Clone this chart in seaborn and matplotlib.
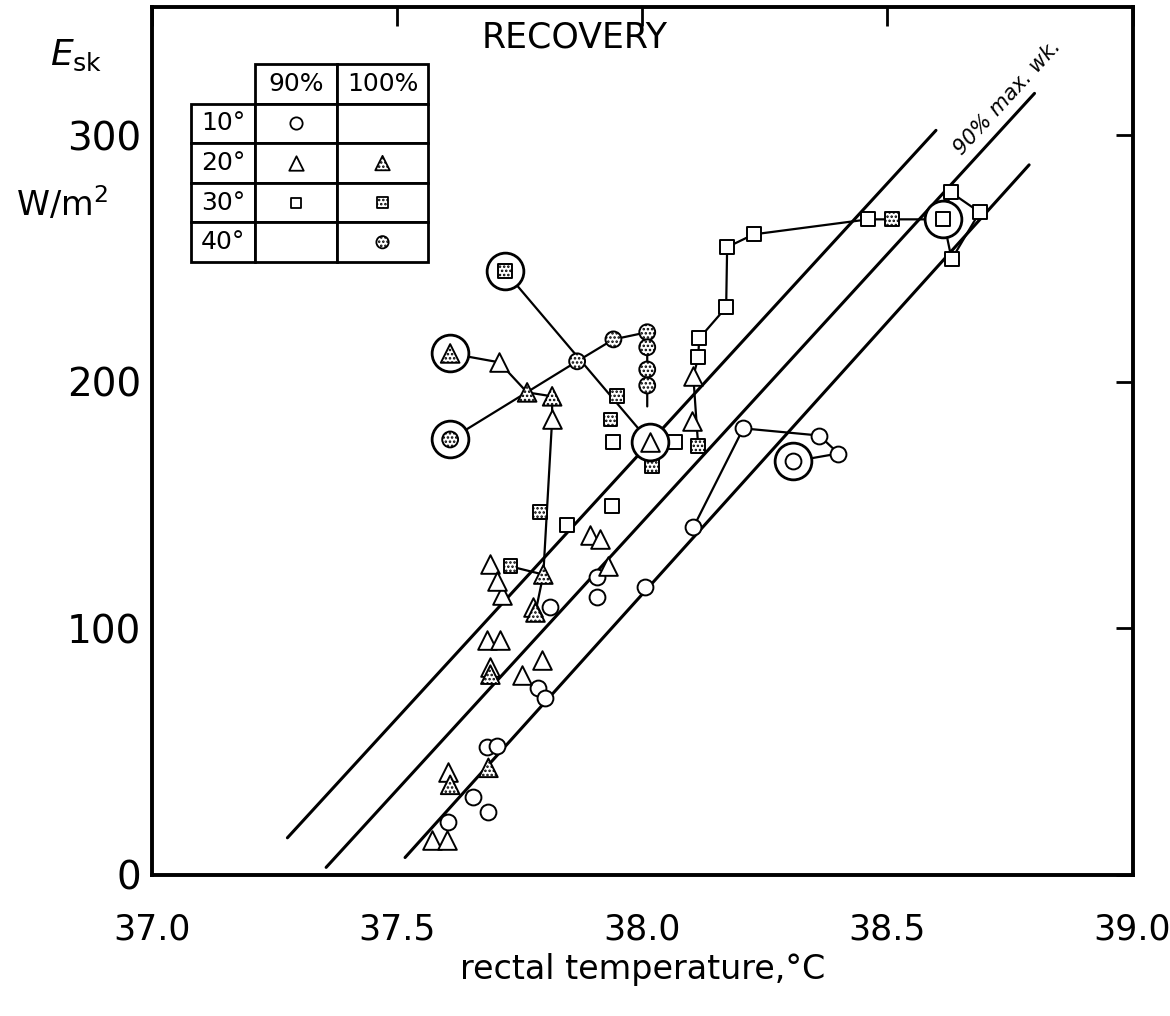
import numpy as np
import pandas as pd
import seaborn as sns
import matplotlib.pyplot as plt

sns.set_theme(style="white")
plt.rcParams['font.family'] = ['DejaVu Sans']
plt.rcParams['text.color'] = 'black'
plt.rcParams['hatch.linewidth'] = 1.2

# axis ticks
x_ticks = [37.0, 37.5, 38.0, 38.5, 39.0]
x_labels = ["37.0", "37.5", "38.0", "38.5", "39.0"]
y_ticks = [0, 100, 200, 300]

# three parallel "90% max. wk." lines
line_upper_x = [37.276, 38.599]
line_upper_y = [15, 302]
line_mid_x = [37.355, 38.80]
line_mid_y = [3, 317]
line_low_x = [37.516, 38.789]
line_low_y = [7, 288]

# 10 deg, 90% (open circles)
circ90_x = [37.812, 37.908, 37.908, 38.006, 38.104, 38.206, 38.361, 38.400,
            37.788, 37.802, 37.684, 37.704, 37.655, 37.686, 37.604]
circ90_y = [108.8, 121.0, 112.5, 116.9, 140.9, 181.1, 178.2, 170.9,
            75.9, 71.9, 52.0, 52.4, 31.7, 25.6, 21.5]

# 20 deg, 90% (open triangles)
tri90_x = [37.894, 37.914, 37.929, 37.690, 37.714, 37.704, 37.778, 37.684, 37.710,
           37.690, 37.796, 37.755, 37.604, 37.571, 37.602, 38.102, 38.104, 37.708, 37.816]
tri90_y = [138.0, 136.4, 125.1, 125.9, 113.7, 119.0, 108.8, 95.4, 95.4,
           84.4, 87.3, 81.2, 41.8, 14.2, 14.2, 183.9, 202.2, 207.9, 184.7]

# 20 deg, 100% (dotted triangles)
tri100_x = [37.798, 37.782, 37.690, 37.686, 37.608, 37.816, 37.765]
tri100_y = [121.8, 106.4, 81.2, 43.4, 36.5, 194.1, 195.7]

# 30 deg, 90% (open squares)
sq90_x = [37.847, 37.939, 37.941, 38.067, 38.114, 38.116, 38.171, 38.173, 38.227,
          38.461, 38.629, 38.688, 38.631]
sq90_y = [142.1, 149.8, 175.4, 175.4, 209.9, 217.6, 230.2, 254.6, 259.8,
          265.9, 276.9, 268.8, 249.7]

# 30 deg, 100% (dotted squares)
sq100_x = [37.792, 37.731, 37.949, 38.020, 38.114, 38.510, 37.935]
sq100_y = [147.0, 125.1, 194.1, 165.7, 173.8, 265.9, 184.7]

# 40 deg, 100% (dotted circles)
circ100_x = [37.867, 37.941, 38.010, 38.010, 38.010, 38.010]
circ100_y = [208.3, 217.2, 220.1, 214.0, 205.0, 198.5]

# end-of-exercise points (ringed)
ring_x = [37.720, 37.608, 37.608, 38.016, 38.308, 38.614]
ring_y = [244.8, 211.5, 176.6, 175.4, 167.7, 265.9]
ring_kind = ["sq100", "tri100", "circ100", "tri90", "circ90", "sq90"]

# recovery paths
path_40_x = [37.608, 37.867, 37.941, 38.010, 38.010]
path_40_y = [176.6, 208.3, 217.2, 220.1, 190.0]
path_20_x = [37.608, 37.708, 37.765, 37.816, 37.816, 37.798]
path_20_y = [211.5, 207.9, 195.7, 194.1, 184.7, 121.8]
path_20b_x = [37.731, 37.798, 37.782]
path_20b_y = [125.1, 121.8, 106.4]
path_30a_x = [37.720, 38.016]
path_30a_y = [244.8, 175.4]
path_30b_x = [38.114, 38.104, 38.114, 38.116, 38.171, 38.173, 38.227, 38.461,
              38.510, 38.614, 38.629, 38.688, 38.631, 38.614]
path_30b_y = [173.8, 202.2, 209.9, 217.6, 230.2, 254.6, 259.8, 265.9,
              265.9, 265.9, 276.9, 268.8, 249.7, 265.9]
path_10_x = [38.104, 38.206, 38.361, 38.400, 38.308]
path_10_y = [140.9, 181.1, 178.2, 170.9, 167.7]

table_rows = ["10°", "20°", "30°", "40°"]
table_cols = ["90%", "100%"]

styles = {
    "circ90": dict(marker="o", s=130, hatch=None),
    "tri90": dict(marker="^", s=180, hatch=None),
    "sq90": dict(marker="s", s=100, hatch=None),
    "tri100": dict(marker="^", s=180, hatch="...."),
    "sq100": dict(marker="s", s=100, hatch="...."),
    "circ100": dict(marker="o", s=130, hatch="...."),
}
groups = {
    "circ90": (circ90_x, circ90_y),
    "tri90": (tri90_x, tri90_y),
    "sq90": (sq90_x, sq90_y),
    "tri100": (tri100_x, tri100_y),
    "sq100": (sq100_x, sq100_y),
    "circ100": (circ100_x, circ100_y),
}

fig, ax = plt.subplots(figsize=(11.7, 10.16), dpi=100)
fig.subplots_adjust(left=0.130, right=0.968, bottom=0.139, top=0.993)

# parallel lines
for lx, ly in [(line_upper_x, line_upper_y), (line_mid_x, line_mid_y), (line_low_x, line_low_y)]:
    sns.lineplot(x=lx, y=ly, color="black", lw=2.2, ax=ax, zorder=1)

# recovery paths
paths = [(path_40_x, path_40_y), (path_20_x, path_20_y), (path_20b_x, path_20b_y),
         (path_30a_x, path_30a_y), (path_30b_x, path_30b_y), (path_10_x, path_10_y)]
for px, py in paths:
    ax.plot(px, py, color="black", lw=1.6, zorder=2)

# points
for key, (gx, gy) in groups.items():
    st = styles[key]
    kw = dict(marker=st["marker"], s=st["s"], color="white", edgecolor="black",
              linewidth=1.4, ax=ax, zorder=3, legend=False)
    if st["hatch"]:
        kw["hatch"] = st["hatch"]
    sns.scatterplot(x=gx, y=gy, **kw)

# rings with inner symbol
ax.scatter(ring_x, ring_y, marker="o", s=700, facecolor="white", edgecolor="black",
           linewidth=2.0, zorder=4)
for rx, ry, kind in zip(ring_x, ring_y, ring_kind):
    st = styles[kind]
    ax.scatter([rx], [ry], marker=st["marker"], s=st["s"], facecolor="white",
               edgecolor="black", linewidth=1.4, hatch=st["hatch"], zorder=5)

ax.text(38.745, 315.5, "90% max. wk.", rotation=47.5, ha="center", va="center",
        fontsize=15, fontstyle="italic", color="black")
ax.text(0.431, 0.965, "RECOVERY", transform=ax.transAxes, ha="center", va="center",
        fontsize=25, color="black")

# legend table
col_w = [0.27, 0.346, 0.384]
tab_box = [0.0398, 0.7062, 0.2416, 0.2281]
cell_text = [[""] + table_cols] + [[r, "", ""] for r in table_rows]
tab = ax.table(cellText=cell_text, cellLoc="center", colWidths=col_w, bbox=tab_box)
tab.auto_set_font_size(False)
tab.set_fontsize(18)
for (r, c), cell in tab.get_celld().items():
    cell.set_linewidth(2)
    cell.set_edgecolor("black")
    cell.set_facecolor("white")
    cell.get_text().set_color("black")
    if r == 0 and c == 0:
        cell.visible_edges = "open"
tab.set_zorder(6)

row_h = tab_box[3] / 5
col_c = [tab_box[0] + tab_box[2] * (col_w[0] + col_w[1] / 2),
         tab_box[0] + tab_box[2] * (col_w[0] + col_w[1] + col_w[2] / 2)]
legend_keys = [["circ90", None], ["tri90", "tri100"], ["sq90", "sq100"], [None, "circ100"]]
for i, row in enumerate(legend_keys):
    yc = tab_box[1] + tab_box[3] - (i + 1.5) * row_h
    for j, key in enumerate(row):
        if key is None:
            continue
        st = styles[key]
        ax.scatter([col_c[j]], [yc], marker=st["marker"], s=st["s"] * 0.6,
                   facecolor="white", edgecolor="black", linewidth=1.3,
                   hatch=st["hatch"], transform=ax.transAxes, zorder=7, clip_on=False)

ax.set_xlim(37.0, 39.0)
ax.set_ylim(0, 352)
ax.set_xticks(x_ticks)
ax.set_xticklabels(x_labels, fontsize=25)
ax.set_yticks(y_ticks)
ax.set_yticklabels([str(v) for v in y_ticks], fontsize=28)
ax.tick_params(axis="x", direction="in", length=14, width=2, top=True, pad=27, colors="black")
ax.tick_params(axis="y", direction="in", length=12, width=2, right=True, pad=8, colors="black")
for sp in ax.spines.values():
    sp.set_color("black")
    sp.set_linewidth(2.8)

ax.set_xlabel("rectal temperature,°C", fontsize=24, labelpad=5, color="black")
fig.text(0.0427, 0.936, r"$\mathit{E}_{\mathrm{sk}}$", fontsize=26, va="baseline", color="black")
fig.text(0.053, 0.799, "W/m$^2$", fontsize=24, ha="center", va="center", color="black")

fig.savefig("out.png", dpi=100)
